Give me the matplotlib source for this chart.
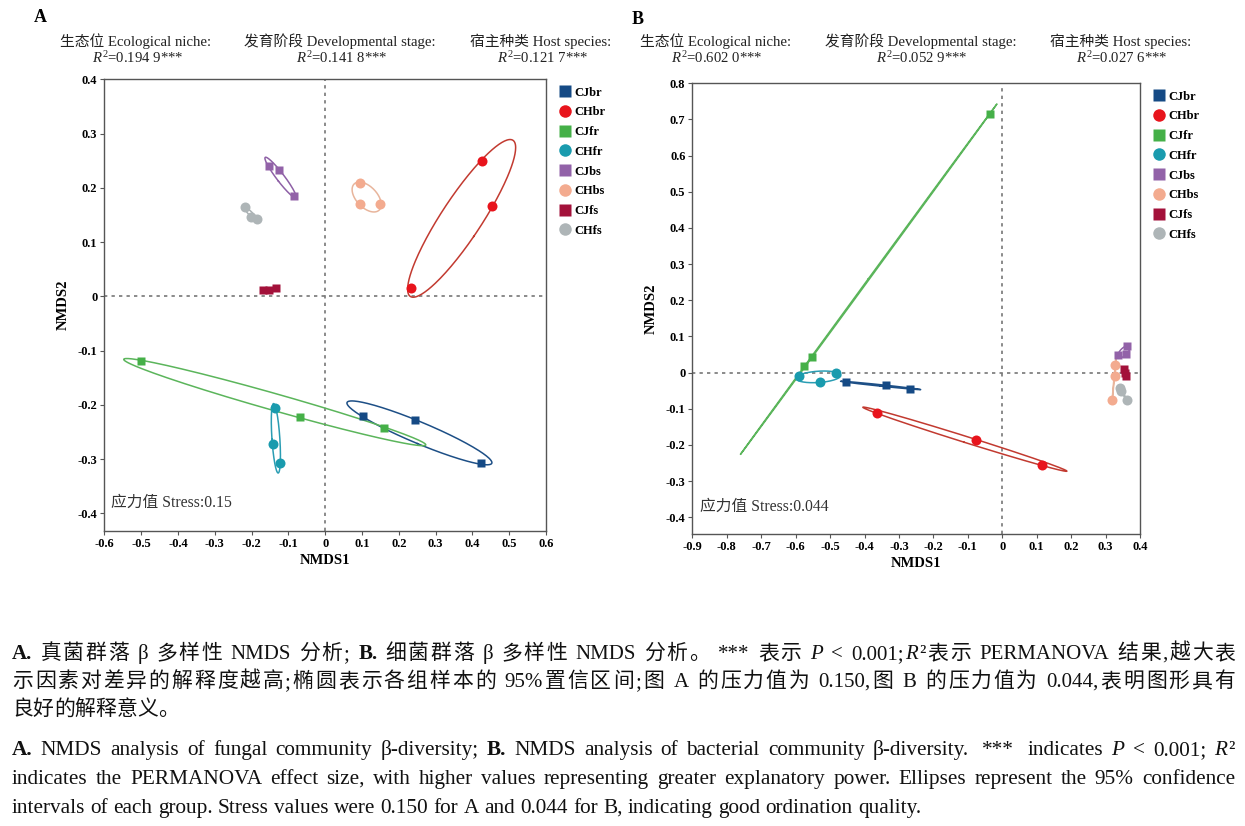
import re
import numpy as np
import matplotlib
matplotlib.use('Agg')
import matplotlib.pyplot as plt
from matplotlib.lines import Line2D
from matplotlib.ticker import FuncFormatter

SERIF = ['Liberation Serif', 'Noto Sans CJK SC']
plt.rcParams['font.family'] = SERIF
plt.rcParams['axes.unicode_minus'] = False
plt.rcParams['mathtext.fontset'] = 'custom'
plt.rcParams['mathtext.rm'] = 'Liberation Serif'
plt.rcParams['mathtext.it'] = 'Liberation Serif:italic'
plt.rcParams['mathtext.bf'] = 'Liberation Serif:bold'

# groups, in legend order
groups = ['CJbr', 'CHbr', 'CJfr', 'CHfr', 'CJbs', 'CHbs', 'CJfs', 'CHfs']
colors = ['#154a85', '#e8141c', '#45b048', '#1a9bae', '#9262a8', '#f3ab8f', '#a3113a', '#aeb5b7']
edge_colors = ['#1d4f86', '#c23a30', '#5bb55b', '#2a9db3', '#8e60a6', '#e8b59c', '#a3113a', '#a9b1b3']
markers = ['s', 'o', 's', 'o', 's', 'o', 's', 'o']

# A: fungal community NMDS scores (3 samples per group)
fung_x = [
    [0.102, 0.243, 0.423],
    [0.427, 0.452, 0.233],
    [-0.501, -0.069, 0.159],
    [-0.136, -0.143, -0.123],
    [-0.154, -0.125, -0.085],
    [0.094, 0.094, 0.150],
    [-0.170, -0.154, -0.134],
    [-0.219, -0.201, -0.184],
]
fung_y = [
    [-0.220, -0.228, -0.307],
    [0.249, 0.167, 0.015],
    [-0.120, -0.223, -0.242],
    [-0.205, -0.272, -0.308],
    [0.240, 0.233, 0.184],
    [0.209, 0.170, 0.170],
    [0.011, 0.012, 0.016],
    [0.165, 0.147, 0.143],
]

# B: bacterial community NMDS scores
bact_x = [
    [-0.455, -0.338, -0.267],
    [-0.365, -0.077, 0.116],
    [-0.575, -0.552, -0.037],
    [-0.590, -0.528, -0.484],
    [0.337, 0.360, 0.362],
    [0.328, 0.326, 0.319],
    [0.354, 0.357, 0.360],
    [0.343, 0.345, 0.361],
]
bact_y = [
    [-0.026, -0.035, -0.045],
    [-0.111, -0.185, -0.256],
    [0.017, 0.043, 0.715],
    [-0.009, -0.026, 0.000],
    [0.049, 0.051, 0.073],
    [0.022, -0.010, -0.076],
    [0.010, -0.002, -0.010],
    [-0.042, -0.051, -0.075],
]

fung_r2 = ['0.194 9', '0.141 8', '0.121 7']
bact_r2 = ['0.602 0', '0.052 9', '0.027 6']
factors = ['生态位 Ecological niche:', '发育阶段 Developmental stage:', '宿主种类 Host species:']

W, H = 1245, 826
fig = plt.figure(figsize=(W / 100, H / 100), dpi=100)


def px(x, y):
    return x / W, 1 - y / H


def ellipse(x, y, k=1.224, n=240):
    pts = np.column_stack([x, y])
    mu = pts.mean(axis=0)
    vals, vecs = np.linalg.eigh(np.cov(pts, rowvar=False))
    vals = np.clip(vals, 0, None)
    t = np.linspace(0, 2 * np.pi, n)
    e = vecs @ (np.sqrt(vals)[:, None] * np.vstack([np.cos(t), np.sin(t)])) * k
    return mu[0] + e[0], mu[1] + e[1]


def panel(ax, xs, ys, xlim, ylim, xticks, yticks, stress):
    ax.axhline(0, color='#777777', ls=(0, (2, 2.5)), lw=1.2, zorder=1)
    ax.axvline(0, color='#777777', ls=(0, (2, 2.5)), lw=1.2, zorder=1)
    for i in range(len(groups)):
        ex, ey = ellipse(xs[i], ys[i])
        ax.plot(ex, ey, color=edge_colors[i], lw=1.1, zorder=2)
        ms = 7.2 if markers[i] == 'o' else 6.2
        ax.plot(xs[i], ys[i], ls='none', marker=markers[i], ms=ms,
                color=colors[i], mec='none', zorder=3)
    ax.set_xlim(xlim)
    ax.set_ylim(ylim)
    ax.set_xticks(xticks)
    ax.set_yticks(yticks)
    fmt = FuncFormatter(lambda v, p: '0' if abs(v) < 1e-9 else f'{v:.1f}')
    ax.xaxis.set_major_formatter(fmt)
    ax.yaxis.set_major_formatter(fmt)
    ax.tick_params(direction='out', length=3, width=0.8, color='#555555',
                   labelsize=9, pad=2)
    for lab in ax.get_xticklabels() + ax.get_yticklabels():
        lab.set_fontweight('bold')
    for s in ax.spines.values():
        s.set_color('#555555')
        s.set_linewidth(1.0)
    ax.set_xlabel('NMDS1', fontweight='bold', fontsize=10.5, labelpad=3)
    ax.set_ylabel('NMDS2', fontweight='bold', fontsize=10.5, labelpad=6)
    ax.text(0.016, 0.062, '应力值 Stress:' + stress, transform=ax.transAxes,
            fontsize=11.3, color='#333333', va='center', ha='left')
    handles = [Line2D([], [], ls='none', marker=markers[i], color=colors[i], mec='none',
                      ms=9 if markers[i] == 'o' else 8) for i in range(len(groups))]
    ax.legend(handles, groups, loc='upper left', bbox_to_anchor=(1.02, 0.995),
              frameon=False, borderaxespad=0, handlelength=0.8, handletextpad=0.35,
              labelspacing=0.62, prop=dict(family='Liberation Serif', weight='bold', size=9))


axA = fig.add_axes([0.0838, 0.3575, 0.3548, 0.5465])
panel(axA, fung_x, fung_y, (-0.6, 0.6), (-0.432, 0.4),
      np.round(np.arange(-0.6, 0.61, 0.1), 1), np.round(np.arange(-0.4, 0.41, 0.1), 1), '0.15')

axB = fig.add_axes([0.5561, 0.3531, 0.3596, 0.5461])
panel(axB, bact_x, bact_y, (-0.9, 0.4), (-0.447, 0.8),
      np.round(np.arange(-0.9, 0.41, 0.1), 1), np.round(np.arange(-0.4, 0.81, 0.1), 1), '0.044')

# panel letters and PERMANOVA headers
fig.text(*px(40, 18), 'A', fontsize=13, fontweight='bold', va='center', ha='center')
fig.text(*px(638, 20), 'B', fontsize=13, fontweight='bold', va='center', ha='center')
for cx, lab, r2 in zip([136, 340, 541], factors, fung_r2):
    fig.text(*px(cx, 41.5), lab, fontsize=10.6, ha='center', va='center', color='#222222')
    fig.text(*px(cx + 2, 58.5), r'$R^2$=' + r2 + '***', fontsize=10.6, ha='center', va='center', color='#222222')
for cx, lab, r2 in zip([716, 921, 1121], factors, bact_r2):
    fig.text(*px(cx, 41.5), lab, fontsize=10.6, ha='center', va='center', color='#222222')
    fig.text(*px(cx + 1, 58.5), r'$R^2$=' + r2 + '***', fontsize=10.6, ha='center', va='center', color='#222222')

# caption, drawn token by token so lines can be justified
renderer = fig.canvas.get_renderer()
TOK = re.compile(r'[\u3000-\u303f\u4e00-\u9fff\uff00-\uffef]|\s+|[^\s\u3000-\u303f\u4e00-\u9fff\uff00-\uffef]+')


def caption_line(y, runs, size, justify=True, x0=12, x1=1235):
    items = []
    space = 0.25 * size * 100 / 72
    for text, style in runs:
        for tok in TOK.findall(text):
            if tok.isspace():
                items.append((None, space * len(tok)))
                continue
            t = fig.text(0, 1 - y / H, tok, fontsize=size, va='baseline', ha='left',
                         fontweight='bold' if style == 'b' else 'normal',
                         fontstyle='italic' if style == 'i' else 'normal', color='#111111')
            items.append((t, t.get_window_extent(renderer).width))
    natural = sum(w for _, w in items)
    extra = (x1 - x0 - natural) / (len(items) - 1) if justify else 0
    x = x0
    for t, w in items:
        if t is not None:
            t.set_x(x / W)
        x += w + extra


cn = 15
caption_line(659, [('A.', 'b'), (' 真菌群落 β 多样性 NMDS 分析; ', 'n'), ('B.', 'b'),
                   (' 细菌群落 β 多样性 NMDS 分析。 *** 表示 ', 'n'), ('P', 'i'), (' < 0.001;', 'n'),
                   ('R', 'i'), ('²表示 PERMANOVA 结果,越大表', 'n')], cn)
caption_line(687, [('示因素对差异的解释度越高;椭圆表示各组样本的 95%置信区间;图 A 的压力值为 0.150,'
                    '图 B 的压力值为 0.044,表明图形具有', 'n')], cn)
caption_line(715, [('良好的解释意义。', 'n')], cn, justify=False)

en = 15.3
caption_line(755, [('A.', 'b'), (' NMDS analysis of fungal community β-diversity; ', 'n'), ('B.', 'b'),
                   (' NMDS analysis of bacterial community β-diversity.  ***  indicates ', 'n'),
                   ('P', 'i'), (' < 0.001; ', 'n'), ('R', 'i'), ('²', 'n')], en)
caption_line(784, [('indicates the PERMANOVA effect size, with higher values representing greater '
                    'explanatory power. Ellipses represent the 95% confidence', 'n')], en)
caption_line(813, [('intervals of each group. Stress values were 0.150 for A and 0.044 for B, '
                    'indicating good ordination quality.', 'n')], en, justify=False)

fig.savefig('out.png', dpi=100)
